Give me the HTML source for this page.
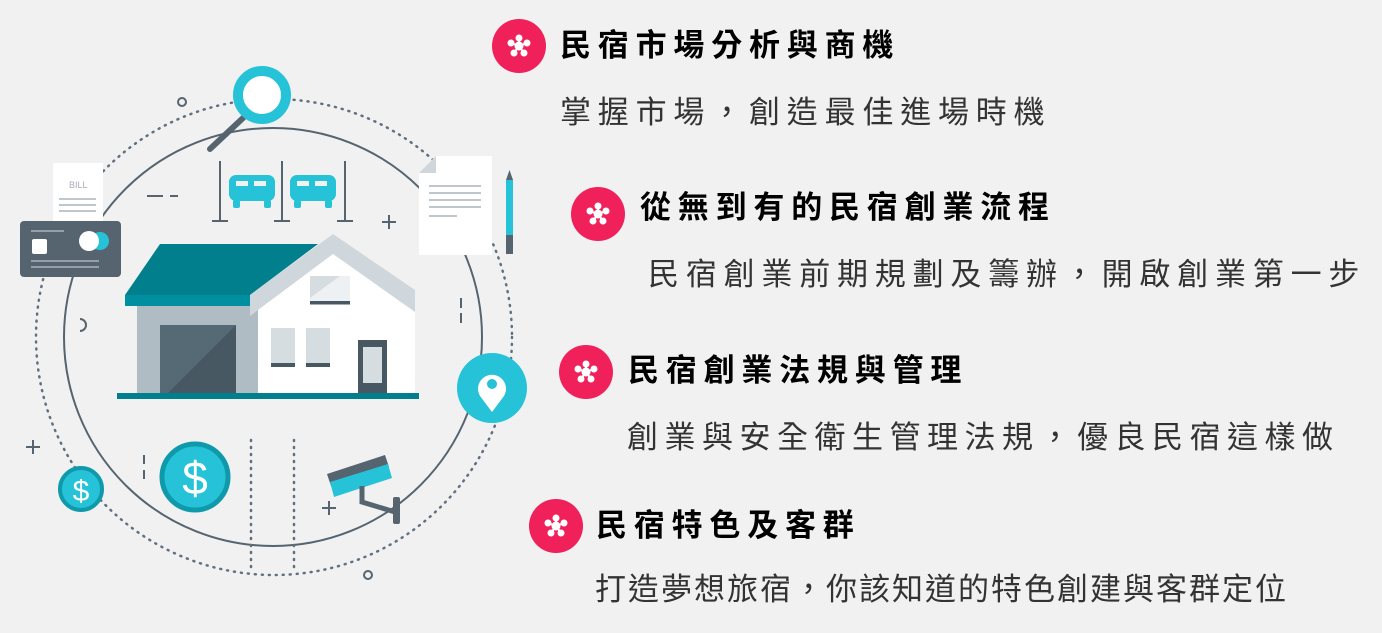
<!DOCTYPE html>
<html><head><meta charset="utf-8"><style>
body{margin:0;width:1382px;height:633px;background:#f1f1f1;overflow:hidden;position:relative;font-family:"Liberation Sans","Noto Sans CJK TC",sans-serif}
svg{position:absolute;left:0;top:0}
.t{position:absolute;font-size:31px;letter-spacing:6px;white-space:nowrap;line-height:40px;color:#111}
.h{font-weight:bold;color:#000;letter-spacing:6.8px}
.s{color:#333}
</style></head><body>
<svg width="1382" height="633" viewBox="0 0 1382 633">
<circle cx="274" cy="337" r="238" fill="none" stroke="#607080" stroke-width="2.5" stroke-dasharray="1 6" stroke-linecap="round"/>
<circle cx="273" cy="337" r="209" fill="none" stroke="#55646f" stroke-width="2"/>
<line x1="251" y1="440" x2="251" y2="570" stroke="#607080" stroke-width="2.5" stroke-dasharray="1 6" stroke-linecap="round"/>
<line x1="294" y1="440" x2="294" y2="570" stroke="#607080" stroke-width="2.5" stroke-dasharray="1 6" stroke-linecap="round"/>
<circle cx="182" cy="102" r="4" fill="none" stroke="#55646f" stroke-width="2"/>
<circle cx="368" cy="575" r="4" fill="none" stroke="#55646f" stroke-width="2"/>
<g stroke="#55646f" stroke-width="2">
<path d="M382 222h14M389 215v14M26 447h14M33 440v14M322 508h14M329 501v14"/>
<path d="M147 196h16M170 196h8M461 298v10M461 313v10M144 455v9M144 470v9"/>
</g>
<path d="M80 319a6 6 0 0 1 0 12" fill="none" stroke="#55646f" stroke-width="2"/>
<line x1="243" y1="118" x2="210" y2="149" stroke="#55646f" stroke-width="6" stroke-linecap="round"/>
<circle cx="262" cy="95" r="24" fill="#fff" stroke="#26c3d8" stroke-width="10"/>
<g stroke="#55646f" stroke-width="2"><path d="M220 161v60M282 161v60M345 161v60M212 221h16M274 221h16M337 221h16"/></g>
<g fill="#26c3d8">
<rect x="229" y="175" width="46" height="26" rx="7"/><rect x="233" y="200" width="7" height="8" rx="2"/><rect x="264" y="200" width="7" height="8" rx="2"/>
<rect x="290" y="175" width="46" height="26" rx="7"/><rect x="294" y="200" width="7" height="8" rx="2"/><rect x="325" y="200" width="7" height="8" rx="2"/>
</g>
<g fill="#f1f1f1"><rect x="236" y="181" width="12" height="5"/><rect x="254" y="181" width="12" height="5"/><rect x="297" y="181" width="12" height="5"/><rect x="315" y="181" width="12" height="5"/></g>
<rect x="53" y="163" width="50" height="60" fill="#fff"/>
<text x="69" y="188" font-size="9" fill="#aab" font-family="Liberation Sans">BILL</text>
<g stroke="#aab4bb" stroke-width="1.5"><path d="M59 199h37M59 205h37M59 211h37"/></g>
<rect x="20" y="221" width="101" height="56" rx="4" fill="#55646f"/>
<rect x="32" y="239" width="15" height="15" rx="2" fill="#fff"/>
<circle cx="100" cy="241" r="9" fill="#26c3d8"/><circle cx="89" cy="241" r="10" fill="#fff"/>
<g stroke="#aab4bb" stroke-width="1.5"><path d="M31 231h33M31 261h68M31 267h68"/></g>
<path d="M436 156h56v99h-73v-82z" fill="#fff"/><path d="M419 173h17v-17z" fill="#d0d6db"/>
<g stroke="#aab4bb" stroke-width="1.5"><path d="M429 186h52M429 193h52M429 200h52M429 207h52M429 216h28"/></g>
<rect x="506" y="180" width="7" height="55" fill="#26c3d8"/><path d="M506 180l3.5-10 3.5 10z" fill="#55646f"/><rect x="506" y="235" width="7" height="19" fill="#55646f"/>
<rect x="137" y="305" width="122" height="88" fill="#b0bcc3"/>
<path d="M160 325h76v68h-76z" fill="#566a76"/><path d="M236 325v68h-68z" fill="#475863"/>
<path d="M258 310l75-70 82 65v88h-157z" fill="#fff"/>
<path d="M160 244h158l-68 51H125z" fill="#017f8c"/>
<rect x="125" y="295" width="125" height="11" fill="#008fa0"/>
<path d="M250 295l83-61 82 56v22l-82-58-83 62z" fill="#d0d7dc"/>
<rect x="310" y="276" width="40" height="28" fill="#d6dde1"/><path d="M310 304v-6l30-22h10v28z" fill="#eef1f3"/><rect x="310" y="301" width="40" height="3.5" fill="#475863"/>
<rect x="271" y="328" width="24" height="38" fill="#d6dde1"/><rect x="306" y="328" width="24" height="38" fill="#d6dde1"/>
<rect x="271" y="363" width="24" height="4" fill="#475863"/><rect x="306" y="363" width="24" height="4" fill="#475863"/>
<rect x="358" y="340" width="29" height="54" fill="#475863"/><rect x="363" y="347" width="19" height="36" fill="#d6dde1"/>
<rect x="117" y="393" width="302" height="6" fill="#017f8c"/>
<circle cx="492" cy="388" r="35" fill="#26c3d8"/>
<path d="M492 412l-12-16a14 14 0 1 1 24 0z" fill="#fff"/><circle cx="492" cy="384" r="5" fill="#26c3d8"/>
<circle cx="195" cy="477" r="33" fill="#26c3d8" stroke="#0f9aab" stroke-width="5"/>
<text x="195" y="494" font-size="46" fill="#fff" text-anchor="middle" font-family="Liberation Sans">$</text>
<circle cx="81" cy="489" r="21" fill="#26c3d8" stroke="#0f9aab" stroke-width="4"/>
<text x="81" y="501" font-size="30" fill="#fff" text-anchor="middle" font-family="Liberation Sans">$</text>
<path d="M327 474l58-19 4 12-58 19z" fill="#55646f"/>
<path d="M330 482l58-18 4 14-58 19z" fill="#26c3d8"/>
<path d="M362 486v16l33 10" fill="none" stroke="#55646f" stroke-width="5"/>
<rect x="393" y="497" width="7" height="27" rx="2" fill="#55646f"/>
<circle cx="519" cy="46" r="27" fill="#f0205a"/>
<circle cx="598" cy="214" r="27" fill="#f0205a"/>
<circle cx="586" cy="372" r="27" fill="#f0205a"/>
<circle cx="556" cy="526" r="27" fill="#f0205a"/>
<g fill="#fff" stroke="#fff" stroke-width="2">
<g transform="translate(519,46)"><path d="M0 -8V0M-8 -3L0 0M8 -3L0 0M-5 7L0 0M5 7L0 0"/><circle r="3.5"/><circle cx="0" cy="-8" r="2.5"/><circle cx="-8" cy="-3" r="2.5"/><circle cx="8" cy="-3" r="2.5"/><circle cx="-5" cy="7" r="2.5"/><circle cx="5" cy="7" r="2.5"/></g>
<g transform="translate(598,214)"><path d="M0 -8V0M-8 -3L0 0M8 -3L0 0M-5 7L0 0M5 7L0 0"/><circle r="3.5"/><circle cx="0" cy="-8" r="2.5"/><circle cx="-8" cy="-3" r="2.5"/><circle cx="8" cy="-3" r="2.5"/><circle cx="-5" cy="7" r="2.5"/><circle cx="5" cy="7" r="2.5"/></g>
<g transform="translate(586,372)"><path d="M0 -8V0M-8 -3L0 0M8 -3L0 0M-5 7L0 0M5 7L0 0"/><circle r="3.5"/><circle cx="0" cy="-8" r="2.5"/><circle cx="-8" cy="-3" r="2.5"/><circle cx="8" cy="-3" r="2.5"/><circle cx="-5" cy="7" r="2.5"/><circle cx="5" cy="7" r="2.5"/></g>
<g transform="translate(556,526)"><path d="M0 -8V0M-8 -3L0 0M8 -3L0 0M-5 7L0 0M5 7L0 0"/><circle r="3.5"/><circle cx="0" cy="-8" r="2.5"/><circle cx="-8" cy="-3" r="2.5"/><circle cx="8" cy="-3" r="2.5"/><circle cx="-5" cy="7" r="2.5"/><circle cx="5" cy="7" r="2.5"/></g>
</g>
</svg>
<div class="t h" style="left:560px;top:26px">民宿市場分析與商機</div>
<div class="t s" style="left:560px;top:93px;letter-spacing:6.8px">掌握市場，創造最佳進場時機</div>
<div class="t h" style="left:640px;top:188px">從無到有的民宿創業流程</div>
<div class="t s" style="left:648px;top:255px;letter-spacing:6.8px">民宿創業前期規劃及籌辦，開啟創業第一步</div>
<div class="t h" style="left:628px;top:351px">民宿創業法規與管理</div>
<div class="t s" style="left:627px;top:418px;letter-spacing:6.5px">創業與安全衛生管理法規，優良民宿這樣做</div>
<div class="t h" style="left:596px;top:506px">民宿特色及客群</div>
<div class="t s" style="left:595px;top:570px;letter-spacing:2px">打造夢想旅宿，你該知道的特色創建與客群定位</div>
</body></html>
